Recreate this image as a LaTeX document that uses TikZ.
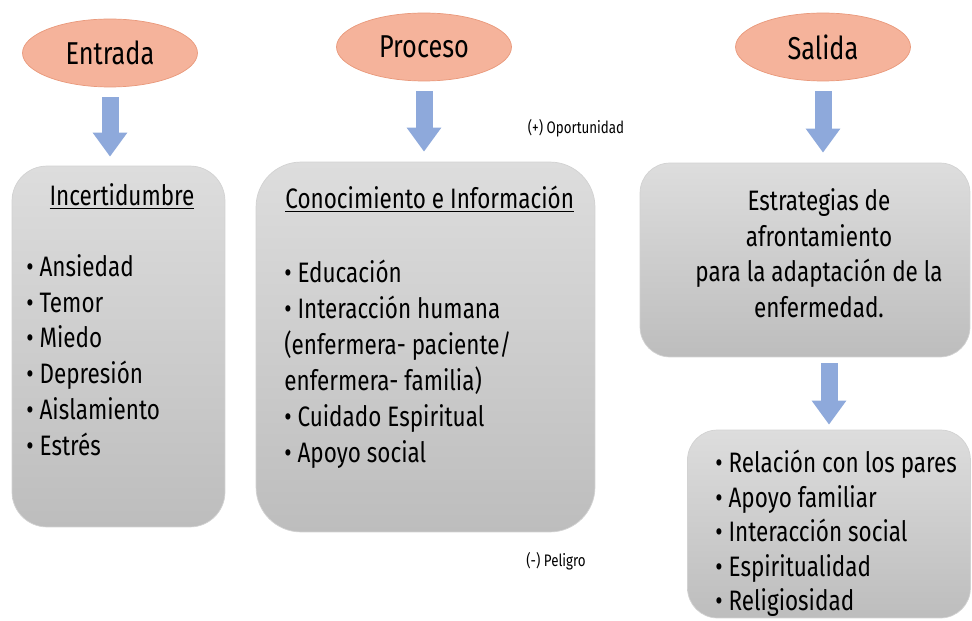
\documentclass[tikz,border=0pt]{standalone}
\usepackage{fontspec}
\setmainfont{Fira Sans}[FakeStretch=0.8]
\usepackage{tikz}
\definecolor{headfill}{HTML}{F5B39B}
\definecolor{headline}{HTML}{E9997B}
\definecolor{boxtop}{HTML}{DDDDDD}
\definecolor{boxbot}{HTML}{BDBDBD}
\definecolor{arrowblue}{HTML}{8EA9DB}
\tikzstyle{head} = [ellipse, draw = headline, fill = headfill, minimum width = 3.5cm, minimum height = 1.36cm, font=\fontsize{18}{20}\selectfont]
\tikzstyle{panel} = [rectangle, rounded corners = 0.7cm, top color = boxtop, bottom color = boxbot, draw = gray!35]
\tikzstyle{arrow} = [draw = arrowblue, line width = 0.34cm, -{Triangle[width=0.66cm,length=0.48cm]}]
\tikzstyle{txt} = [inner sep = 0pt, font=\fontsize{16}{20.4}\selectfont]
\tikzstyle{note} = [inner sep = 0pt, font=\fontsize{9.5}{11}\selectfont]
\usetikzlibrary{arrows.meta, shapes.geometric, positioning}

\begin{document}
\begin{tikzpicture}[x=0.02cm, y=-0.02cm]
      \useasboundingbox (0,0) rectangle (972,621);
      \node[head] (entrada) at (110,53) {Entrada};
      \node[head] (proceso) at (424,47) {Proceso};
      \node[head] (salida) at (823,47) {Salida};

      \node[panel, minimum width=4.26cm, minimum height=7.22cm] (incert) at (118.5,346.5) {};
      \node[panel, rounded corners=0.9cm, minimum width=6.78cm, minimum height=7.4cm] (conoc) at (425.5,347) {};
      \node[panel, rounded corners=0.6cm, minimum width=6.6cm, minimum height=3.88cm] (estrat) at (805,260) {};
      \node[panel, rounded corners=0.6cm, minimum width=5.66cm, minimum height=3.76cm] (apoyos) at (829,524) {};

      \node[txt, anchor=base] (titulo1) at (122,206) {\underline{Incertidumbre}};
      \node[txt, anchor=north west, align=left] (lista1) at (26,254) {• Ansiedad\\ • Temor\\ • Miedo\\ • Depresión\\ • Aislamiento\\ • Estrés};
      \node[txt, anchor=base west] (titulo2) at (285,209) {\underline{Conocimiento e Información}};
      \node[txt, anchor=north west, align=left] (lista2) at (284,260) {• Educación\\ • Interacción humana\\ (enfermera- paciente/\\ enfermera- familia)\\ • Cuidado Espiritual\\ • Apoyo social};
      \node[txt, anchor=north, align=center] (texto3) at (819,188) {Estrategias de\\ afrontamiento\\ para la adaptación de la\\ enfermedad.};
      \node[txt, anchor=north west, align=left, font=\fontsize{16}{19.6}\selectfont] (lista4) at (715,450) {• Relación con los pares\\ • Apoyo familiar\\ • Interacción social\\ • Espiritualidad\\ • Religiosidad};

      \node[note] (oport) at (576,128) {(+) Oportunidad};
      \node[note] (peligro) at (556,561) {(-) Peligro};

      \draw[arrow] ([yshift=-0.2cm]entrada.south) -- ([yshift=0.18cm]entrada.south |- incert.north);
      \draw[arrow] ([yshift=-0.2cm]proceso.south) -- ([yshift=0.2cm]proceso.south |- conoc.north);
      \draw[arrow] ([yshift=-0.2cm]salida.south) -- ([yshift=0.2cm]salida.south |- estrat.north);
      \draw[arrow] ([yshift=-0.12cm]estrat.south -| apoyos.north) -- ([yshift=0.1cm]apoyos.north);
    \end{tikzpicture}
\end{document}
